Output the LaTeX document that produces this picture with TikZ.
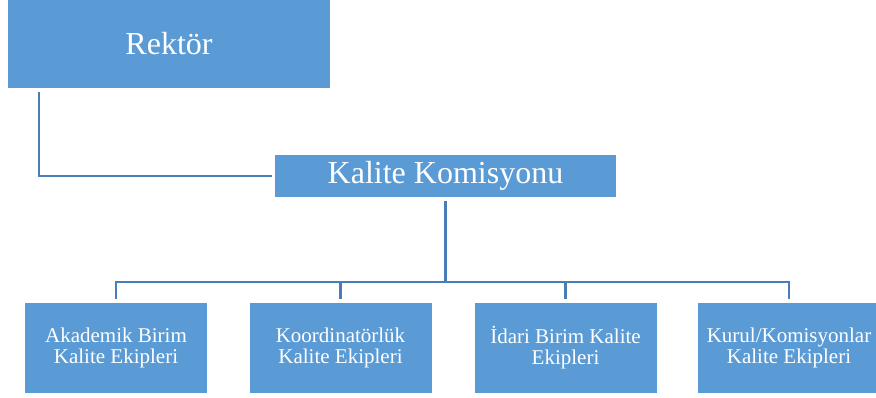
\documentclass[tikz,border=0pt]{standalone}
\usepackage{fontspec}
\setmainfont{Liberation Serif}
\usetikzlibrary{calc}
\definecolor{boxblue}{RGB}{91,155,213}
\definecolor{lineblue}{RGB}{72,126,184}
\tikzset{
  bigbox/.style={fill=boxblue, draw=none, text=white, inner sep=0pt, align=center, font=\fontsize{32}{34}\selectfont},
  smallbox/.style={fill=boxblue, draw=none, text=white, inner sep=0pt, align=center,
    minimum width=182pt, minimum height=90pt, font=\fontsize{21}{21}\selectfont},
  conn/.style={draw=lineblue, line width=2.6pt}
}
\begin{document}
\begin{tikzpicture}[x=1pt,y=-1pt]
\useasboundingbox (0,0) rectangle (876,398);
\node[bigbox, minimum width=322pt, minimum height=88pt] (rek) at (169,44) {Rektör};
\node[bigbox, minimum width=341pt, minimum height=42pt] (kk) at (445.5,176) {Kalite Komisyonu};
\node[smallbox] (b1) at (116,348) {\raisebox{-2pt}{\parbox{180pt}{\centering Akademik Birim\\Kalite Ekipleri}}};
\node[smallbox] (b2) at (340.5,348) {\raisebox{-2pt}{\parbox{180pt}{\centering Koordinatörlük\\Kalite Ekipleri}}};
\node[smallbox] (b3) at (565.5,348) {\raisebox{-2pt}{\parbox{180pt}{\centering İdari Birim Kalite\\Ekipleri}}};
\node[smallbox] (b4) at (789,348) {\raisebox{-2pt}{\parbox{180pt}{\centering Kurul/Komisyonlar\\Kalite Ekipleri}}};
\coordinate (busy) at (0,282);
\coordinate (rekx) at (39,0);
\draw[conn] ([yshift=-4pt]rek.south -| rekx) |- ([xshift=-3pt]kk.west);
\draw[conn] ([yshift=-4pt]kk.south) -- (kk.south |- busy);
\draw[conn] ([yshift=4pt]b1.north) -- (b1.north |- busy) -- (b4.north |- busy) -- ([yshift=4pt]b4.north);
\draw[conn] ([yshift=4pt]b2.north) -- (b2.north |- busy);
\draw[conn] ([yshift=4pt]b3.north) -- (b3.north |- busy);
\end{tikzpicture}
\end{document}
